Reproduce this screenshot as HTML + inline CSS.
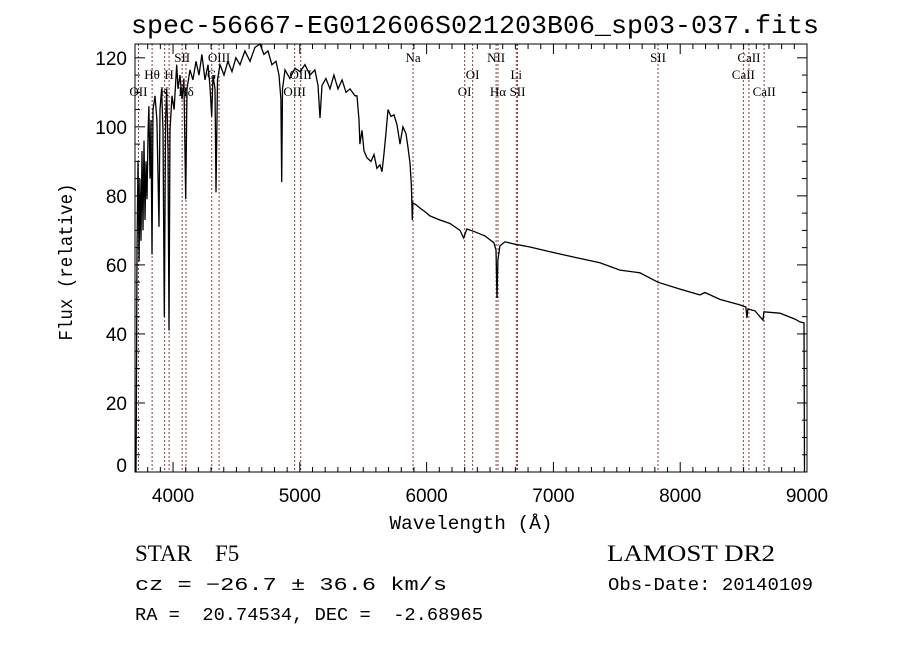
<!DOCTYPE html>
<html><head><meta charset="utf-8"><style>
body{margin:0;background:#fff}
svg{display:block}
.lbl{font-family:"Liberation Serif",serif;font-size:13px;fill:#000}
</style></head><body>
<svg id="chart" width="900" height="649" viewBox="0 0 900 649" xmlns="http://www.w3.org/2000/svg">
<rect width="900" height="649" fill="#fff"/>
<text x="475" y="33" text-anchor="middle" font-family="Liberation Mono, monospace" font-size="26" textLength="688" lengthAdjust="spacingAndGlyphs">spec-56667-EG012606S021203B06_sp03-037.fits</text>
<g id="lines"></g>
<g id="series"></g>
<g id="axes"></g>
<text transform="translate(72,262) rotate(-90)" text-anchor="middle" font-family="Liberation Mono, monospace" font-size="19" textLength="157" lengthAdjust="spacingAndGlyphs">Flux (relative)</text>
<text x="471" y="529" text-anchor="middle" font-family="Liberation Mono, monospace" font-size="19" textLength="163" lengthAdjust="spacingAndGlyphs">Wavelength (Å)</text>
<text x="135" y="561" font-family="Liberation Serif, serif" font-size="23" xml:space="preserve">STAR    F5</text>
<text x="607" y="561" font-family="Liberation Serif, serif" font-size="23" textLength="168" lengthAdjust="spacingAndGlyphs">LAMOST DR2</text>
<text x="135" y="590" font-family="Liberation Mono, monospace" font-size="18" textLength="312" lengthAdjust="spacingAndGlyphs">cz = −26.7 ± 36.6 km/s</text>
<text x="608" y="590" font-family="Liberation Mono, monospace" font-size="18" textLength="205" lengthAdjust="spacingAndGlyphs">Obs-Date: 20140109</text>
<text x="135" y="620" font-family="Liberation Mono, monospace" font-size="18" textLength="348" lengthAdjust="spacingAndGlyphs" xml:space="preserve">RA =  20.74534, DEC =  -2.68965</text>
</svg>
<script>
const wave=[3708,3710,3716,3724,3732,3739,3747,3755,3763,3771,3779,3787,3795,3803,3810,3818,3826,3834,3842,3858,3873,3889,3897,3910,3921,3931,3941,3950,3960,3968,3976,3992,4008,4029,4039,4055,4071,4086,4100,4110,4134,4157,4181,4205,4228,4252,4276,4291,4305,4315,4331,4339,4351,4370,4402,4433,4465,4496,4528,4567,4607,4646,4686,4717,4749,4780,4812,4836,4851,4857,4863,4883,4922,4962,5001,5041,5080,5119,5143,5159,5175,5206,5238,5269,5301,5333,5364,5396,5435,5451,5467,5474,5490,5506,5530,5561,5585,5608,5632,5648,5663,5679,5695,5719,5743,5766,5790,5813,5837,5853,5869,5880,5887,5892,5916,5947,5987,6026,6105,6184,6263,6292,6318,6381,6460,6531,6547,6555,6562,6578,6618,6697,6815,6973,7193,7367,7525,7682,7824,7998,8155,8195,8313,8471,8518,8526,8534,8589,8653,8660,8786,8905,8944,8976,8980];
const flux=[0,15,64,90,61,85,67,93,70,96,73,90,79,99,106,85,102,63,105,109,102,71,105,111,99,45,102,111,93,41,99,109,105,118,111,115,108,114,79,111,116.5,113.6,119,115,121,113.6,118,112,103,115,111,81,113.6,118,115,119,116,120,118,122,119,123,124,121,122,118,119,115,108,84,111,116.5,114,117,116,118,115,116.5,112,102.6,112,114,111,115,111,113.6,110,111,109,109,102,95,99,93,91,90,92,88,89,87,92,98,105,103,103.5,100.6,95,100,98,94,89.5,83,73,78,77.4,76.5,75.4,74.2,73,72,70,67.8,70.4,69.6,68.4,66.4,64.3,50.4,61.4,65.5,66.7,66,65.2,63.8,62,60.6,58.5,57.7,55,53,51.3,52,50,48.4,47.8,44.6,47.2,46.7,44,46.4,46,44.3,43.5,43.2,0];
const lineWaves=[3727,3835,3934,3969,4072,4102,4305,4363,4959,5007,5893,6300,6363,6548,6563,6707,6717,7825,8498,8542,8662];
const lineNames=["OII","Hθ","K","H","SII","Hδ","G","OIII","OIII","OIII","Na","OI","OI","NII","Hα","Li","SII","SII","CaII","CaII","CaII"];
const lineRows=[2,1,2,1,0,2,1,0,2,1,0,2,1,0,2,1,2,0,1,0,2];
const xTicks=[4000,5000,6000,7000,8000,9000];
const yTicks=[0,20,40,60,80,100,120];
const X0=135,X1=807,Y0=44,Y1=472,XMIN=3700,XMAX=9000,YMIN=0,YMAX=124;
function sx(w){return X0+(w-XMIN)/(XMAX-XMIN)*(X1-X0);}
function sy(f){return Y1-(f-YMIN)/(YMAX-YMIN)*(Y1-Y0);}
const NS="http://www.w3.org/2000/svg";
function mk(t,a,p){const e=document.createElementNS(NS,t);for(const k in a)e.setAttribute(k,a[k]);p.appendChild(e);return e;}
const gL=document.getElementById('lines'),gS=document.getElementById('series'),gA=document.getElementById('axes');
const rowY=[62,79,96];
lineWaves.forEach((w,i)=>{
  const l=mk('line',{x1:sx(w),x2:sx(w),y1:Y0,y2:Y1,stroke:'#8b3a3a','stroke-width':1,'stroke-dasharray':'2,2'},gL);
  
  
  const t=mk('text',{x:sx(w),y:rowY[lineRows[i]],'text-anchor':'middle',class:'lbl'},gL);
  t.textContent=lineNames[i];
  
  
});
let d='';wave.forEach((w,i)=>{d+=(i?'L':'M')+sx(w).toFixed(1)+','+sy(flux[i]).toFixed(1);});
const p=mk('path',{d:d,fill:'none',stroke:'#000','stroke-width':1.3,'stroke-linejoin':'miter'},gS);


const fr=mk('rect',{x:X0,y:Y0,width:X1-X0,height:Y1-Y0,fill:'none',stroke:'#000','stroke-width':1},gA);


for(let w=3800;w<=9000;w+=100){const maj=w%1000===0,L=maj?10:5;
  mk('line',{x1:sx(w),x2:sx(w),y1:Y1,y2:Y1-L,stroke:'#000'},gA);
  mk('line',{x1:sx(w),x2:sx(w),y1:Y0,y2:Y0+L,stroke:'#000'},gA);}
for(let f=0;f<=120;f+=5){const maj=f%20===0,L=maj?10:5;
  mk('line',{x1:X0,x2:X0+L,y1:sy(f),y2:sy(f),stroke:'#000'},gA);
  mk('line',{x1:X1,x2:X1-L,y1:sy(f),y2:sy(f),stroke:'#000'},gA);}
xTicks.forEach(v=>{const t=mk('text',{x:sx(v),y:502,'text-anchor':'middle','font-family':'Liberation Sans, sans-serif','font-size':19},gA);t.textContent=v;
  
  });
yTicks.forEach(v=>{const t=mk('text',{x:127,y:(v===0?sy(v)-0:sy(v)+7),'text-anchor':'end','font-family':'Liberation Sans, sans-serif','font-size':19},gA);t.textContent=v;
  
  });
</script>
</body></html>
